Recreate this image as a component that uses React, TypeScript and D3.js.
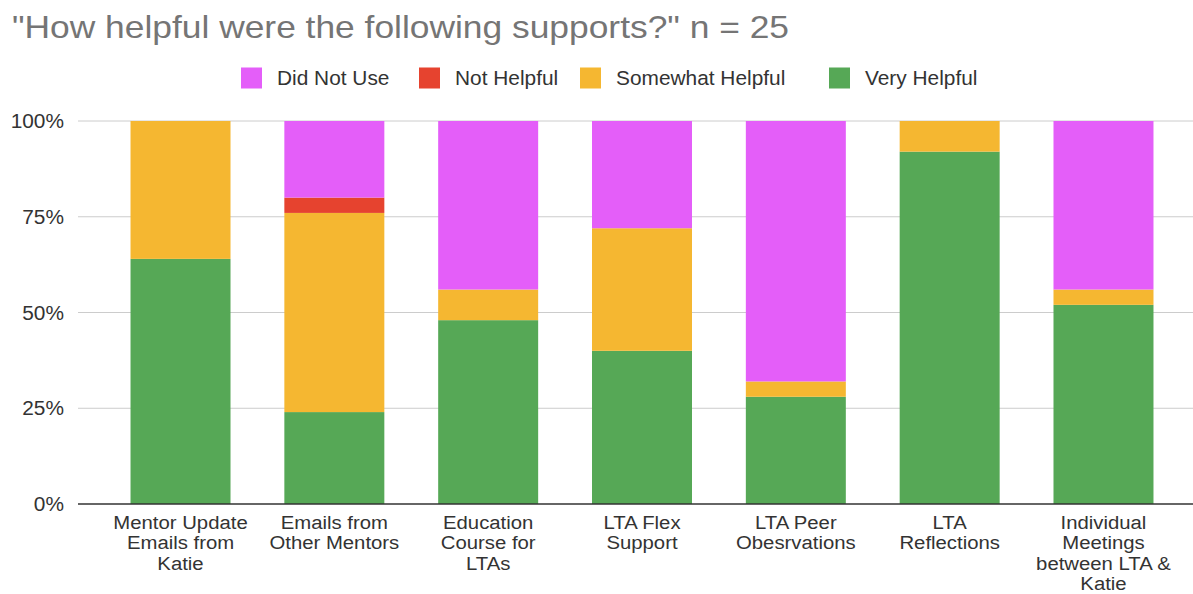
import React from "react";
import * as d3 from "d3";

const categories = [
  "Mentor Update\nEmails from\nKatie",
  "Emails from\nOther Mentors",
  "Education\nCourse for\nLTAs",
  "LTA Flex\nSupport",
  "LTA Peer\nObesrvations",
  "LTA\nReflections",
  "Individual\nMeetings\nbetween LTA &\nKatie",
];
const seriesNames = ["Did Not Use", "Not Helpful", "Somewhat Helpful", "Very Helpful"];
const seriesColors = ["#e45ef9", "#e6432f", "#f5b731", "#56a856"];
// percentages (n = 25)
const veryHelpful = [64, 24, 48, 40, 28, 92, 52];
const somewhatHelpful = [36, 52, 8, 32, 4, 8, 4];
const notHelpful = [0, 4, 0, 0, 0, 0, 0];
const didNotUse = [0, 20, 44, 28, 68, 0, 44];
const yTicks = [0, 25, 50, 75, 100];
const title = '"How helpful were the following supports?" n = 25';

const W = 1193;
const H = 594;
const SX = 1.07;

function T({ x, y, size, anchor = "start", fill = "#333", children }: any) {
  return (
    <g transform={`translate(${x},${y}) scale(${SX},1)`}>
      <text x={0} y={0} fontSize={size} textAnchor={anchor} fill={fill}>{children}</text>
    </g>
  );
}

export default function App() {
  const x = d3
    .scaleBand<string>()
    .domain(categories)
    .range([103.6, 1180.4])
    .paddingInner(0.35)
    .paddingOuter(0.175);
  const y = d3.scaleLinear().domain([0, 100]).range([504, 121]);

  const rows = categories.map((c, i) => ({
    cat: c,
    "Very Helpful": veryHelpful[i],
    "Somewhat Helpful": somewhatHelpful[i],
    "Not Helpful": notHelpful[i],
    "Did Not Use": didNotUse[i],
  }));
  const stackOrder = ["Very Helpful", "Somewhat Helpful", "Not Helpful", "Did Not Use"];
  const stacked = d3.stack<any>().keys(stackOrder)(rows);
  const colorOf = (k: string) => seriesColors[seriesNames.indexOf(k)];

  const legendX = [241, 419, 580, 829];
  const font = "'Liberation Sans', Arial, sans-serif";

  return (
    <svg width={W} height={H} style={{ position: "absolute", left: 0, top: 0, background: "#fff" }} fontFamily={font}>
      <text x={12} y={38} fontSize={32} fill="#757575" textLength={777} lengthAdjust="spacingAndGlyphs">{title}</text>
      {seriesNames.map((s, i) => (
        <g key={s}>
          <rect x={legendX[i]} y={67.5} width={21} height={21} fill={seriesColors[i]} />
          <T x={legendX[i] + 36} y={85} size={19.5}>{s}</T>
        </g>
      ))}
      {yTicks.map((t) => (
        <g key={t}>
          {t > 0 && <line x1={78} x2={W} y1={y(t)} y2={y(t)} stroke="#cccccc" strokeWidth={1} />}
          <T x={64} y={y(t) + 7} size={19.5} anchor="end">{t}%</T>
        </g>
      ))}
      {stacked.map((layer) => (
        <g key={layer.key} fill={colorOf(layer.key)}>
          {layer.map((d, i) =>
            d[1] - d[0] > 0 ? (
              <rect
                key={i}
                x={x(categories[i])}
                y={y(d[1])}
                width={x.bandwidth()}
                height={y(d[0]) - y(d[1])}
              />
            ) : null
          )}
        </g>
      ))}
      <line x1={78} x2={W} y1={y(0)} y2={y(0)} stroke="#333" strokeWidth={1.5} />
      {categories.map((c) =>
        c.split("\n").map((line, j) => (
          <T key={c + j} x={(x(c) as number) + x.bandwidth() / 2} y={529 + j * 20.4} size={19} anchor="middle">
            {line}
          </T>
        ))
      )}
    </svg>
  );
}
